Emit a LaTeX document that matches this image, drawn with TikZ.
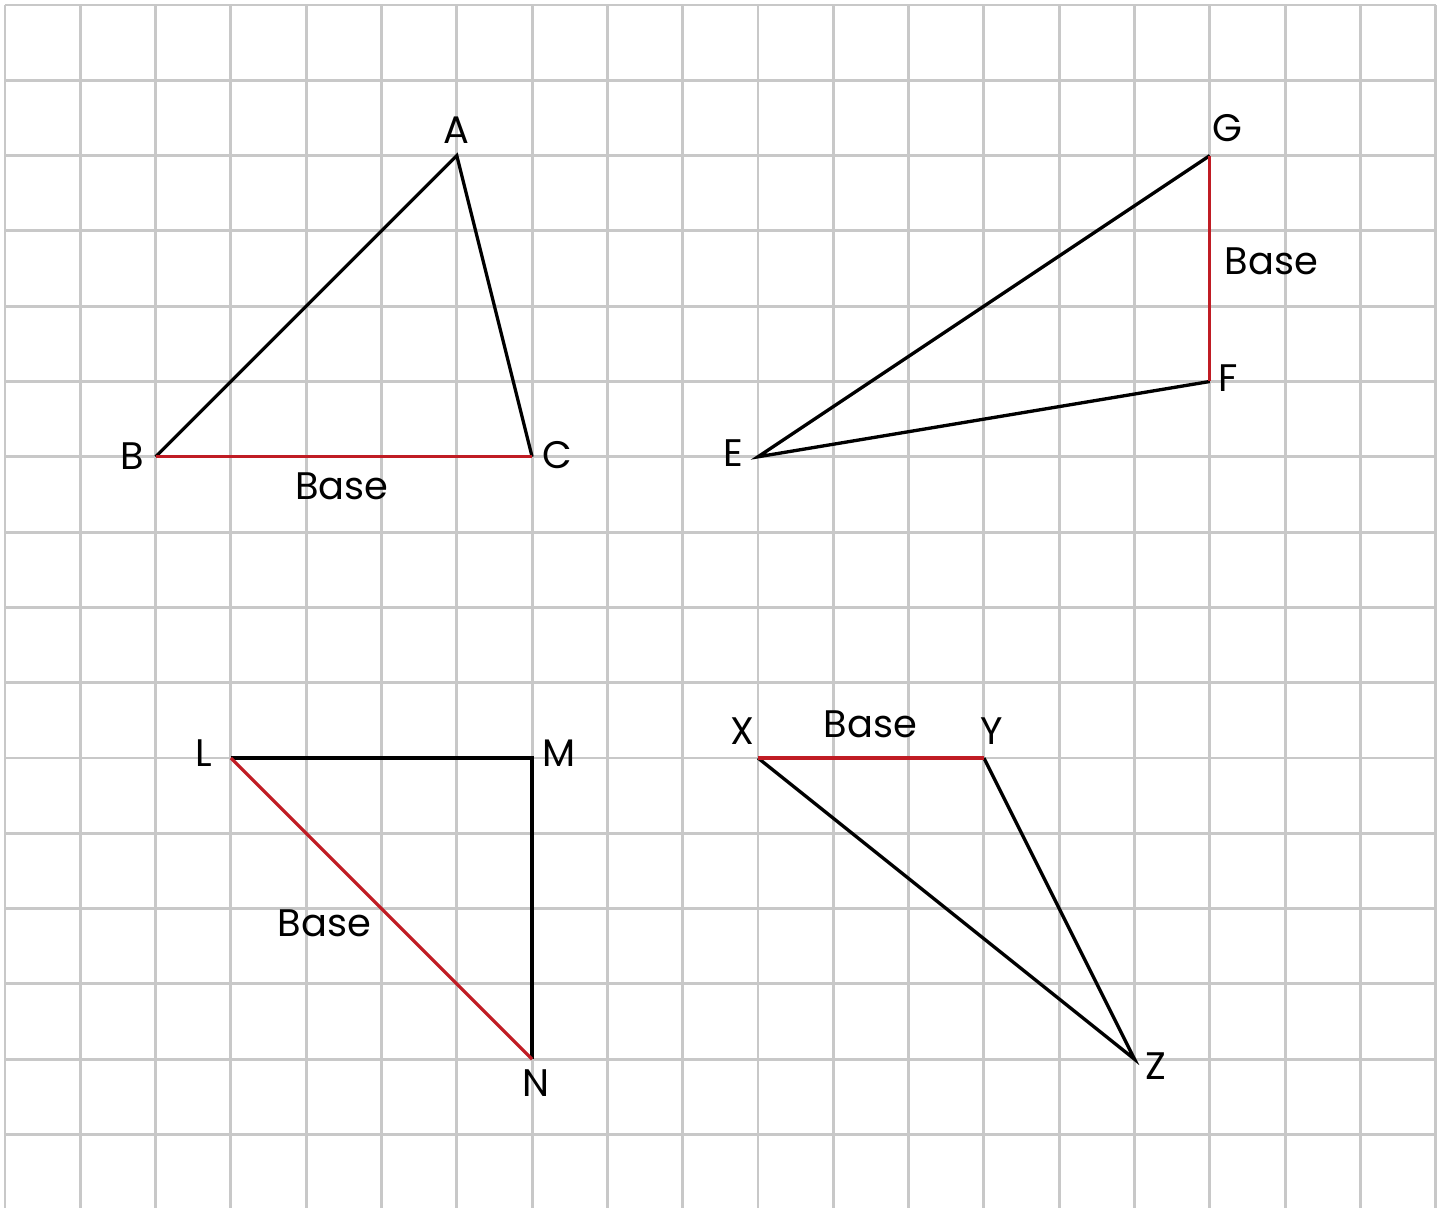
\documentclass[tikz,border=0pt]{standalone}
\usepackage{fontspec}
\setmainfont{Poppins}
\definecolor{gridgray}{RGB}{200,200,200}
\definecolor{basered}{RGB}{192,28,36}
\begin{document}
\begin{tikzpicture}[
  gridline/.style={draw=gridgray, line width=1.1pt},
  edge/.style={draw=black, line width=1.25pt, line join=miter},
  baseedge/.style={draw=basered, line width=1.25pt},
  lbl/.style={inner sep=0pt, font=\fontsize{14.5}{16}\selectfont}
]
\clip (-0.066,-15.976) rectangle (19.11,0.066);
\fill[white] (-0.066,-15.976) rectangle (19.11,0.066);
\draw[gridline] (0,0) grid (19,-16);

% vertices
\coordinate (A) at (6,-2);
\coordinate (B) at (2,-6);
\coordinate (C) at (7,-6);
\coordinate (G) at (16,-2);
\coordinate (F) at (16,-5);
\coordinate (E) at (10,-6);
\coordinate (L) at (3,-10);
\coordinate (M) at (7,-10);
\coordinate (N) at (7,-14);
\coordinate (X) at (10,-10);
\coordinate (Y) at (13,-10);
\coordinate (Z) at (15,-14);

% triangles
\draw[edge] (B) -- (A) -- (C);
\draw[baseedge] (B) -- (C);
\draw[edge] (F) -- (E) -- (G);
\draw[baseedge] (G) -- (F);
\draw[edge] (L) -- (M) -- (N);
\draw[baseedge] (L) -- (N);
\draw[edge] (Y) -- (Z) -- (X);
\draw[baseedge] (X) -- (Y);

% labels
\node[lbl] (lA) at (6,-1.66) {A};
\node[lbl] (lB) at (1.69,-5.99) {B};
\node[lbl] (lC) at (7.34,-5.98) {C};
\node[lbl] (bABC) at (4.475,-6.39) {Base};
\node[lbl] (lG) at (16.23,-1.63) {G};
\node[lbl] (bGF) at (16.82,-3.41) {Base};
\node[lbl] (lF) at (16.24,-4.95) {F};
\node[lbl] (lE) at (9.67,-5.95) {E};
\node[lbl] (lL) at (2.64,-9.93) {L};
\node[lbl] (lM) at (7.36,-9.93) {M};
\node[lbl] (lN) at (7.05,-14.32) {N};
\node[lbl] (bLN) at (4.24,-12.2) {Base};
\node[lbl] (lX) at (9.79,-9.64) {X};
\node[lbl] (bXY) at (11.49,-9.55) {Base};
\node[lbl] (lY) at (13.1,-9.64) {Y};
\node[lbl] (lZ) at (15.28,-14.09) {Z};
\end{tikzpicture}
\end{document}
